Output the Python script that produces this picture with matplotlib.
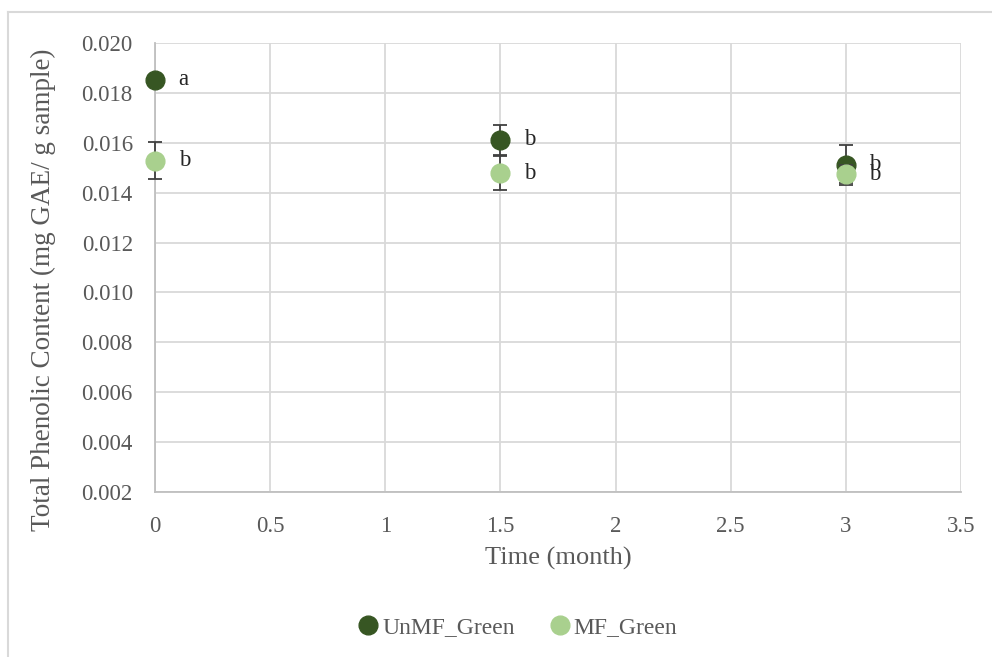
import matplotlib.pyplot as plt
from matplotlib.lines import Line2D

# storage time (months) and total phenolic content
time_months = [0, 1.5, 3]
unmf_green = [0.01852, 0.01613, 0.01511]
unmf_err = [0.0, 0.0006, 0.0008]
mf_green = [0.01528, 0.01477, 0.01474]
mf_err = [0.00074, 0.00068, 0.00036]
unmf_letters = ["a", "b", "b"]
mf_letters = ["b", "b", "b"]

plt.rcParams['font.family'] = ['Liberation Serif', 'DejaVu Serif']

dark = "#375623"
light = "#a9d08e"
grey_text = "#595959"
grid_col = "#d9d9d9"

fig = plt.figure(figsize=(9.92, 6.57), dpi=100)
ax = fig.add_axes([155 / 992, 1 - 492 / 657, (961 - 155) / 992, (492 - 43) / 657])

# outer chart frame
fig.add_artist(Line2D([8 / 992, 8 / 992], [0, 1 - 12 / 657], color=grid_col, lw=1.5))
fig.add_artist(Line2D([8 / 992, 1], [1 - 12 / 657, 1 - 12 / 657], color=grid_col, lw=1.5))

containers = []
containers.append(ax.errorbar(time_months, unmf_green, yerr=unmf_err, fmt='o', color=dark,
                              ms=13.5, ecolor="#404040", elinewidth=1.3, capsize=5,
                              capthick=1.3, zorder=3))
containers.append(ax.errorbar(time_months, mf_green, yerr=mf_err, fmt='o', color=light,
                              ms=13.5, ecolor="#404040", elinewidth=1.3, capsize=5,
                              capthick=1.3, zorder=4))
for c in containers:
    for art in c.get_children():
        art.set_clip_on(False)

for x, y, t in zip(time_months, unmf_green, unmf_letters):
    ax.annotate(t, (x, y), xytext=(17, 0), textcoords='offset points',
                va='center', ha='left', fontsize=16.5, color="#262626")
for x, y, t in zip(time_months, mf_green, mf_letters):
    ax.annotate(t, (x, y), xytext=(17, 0), textcoords='offset points',
                va='center', ha='left', fontsize=16.5, color="#262626")

ax.set_xlim(0, 3.5)
ax.set_ylim(0.002, 0.020)
ax.set_xticks([0, 0.5, 1, 1.5, 2, 2.5, 3, 3.5])
ax.set_xticklabels(["0", "0.5", "1", "1.5", "2", "2.5", "3", "3.5"])
ax.set_yticks([0.002 * i for i in range(1, 11)])
ax.set_yticklabels([f"{0.002 * i:.3f}" for i in range(1, 11)])
ax.tick_params(colors=grey_text, labelsize=16.5, length=0)
ax.tick_params(axis='y', pad=16)
ax.tick_params(axis='x', pad=17)
ax.grid(True, color=grid_col, lw=1.3)
ax.set_axisbelow(True)
for s in ["top", "right"]:
    ax.spines[s].set_visible(False)
for s in ["left", "bottom"]:
    ax.spines[s].set_color("#bfbfbf")
    ax.spines[s].set_linewidth(1.3)

ax.set_xlabel("Time (month)", fontsize=19, color=grey_text, va='center')
ax.set_ylabel("Total Phenolic Content (mg GAE/ g sample)", fontsize=19.5,
              color=grey_text, va='center')
ax.xaxis.set_label_coords(0.5, -(558 - 492) / 449)
ax.yaxis.set_label_coords(-(155 - 43) / 806, (492 - 290) / 449)

handles = [Line2D([], [], marker='o', ls='', color=dark, ms=13.5),
           Line2D([], [], marker='o', ls='', color=light, ms=13.5)]
fig.legend(handles, ["UnMF_Green", "MF_Green"], loc='center',
           bbox_to_anchor=(511 / 992, 1 - 627 / 657), ncol=2, frameon=False,
           fontsize=17, handletextpad=-0.4, columnspacing=0.9, labelcolor=grey_text)

fig.savefig("out.png", dpi=100)
